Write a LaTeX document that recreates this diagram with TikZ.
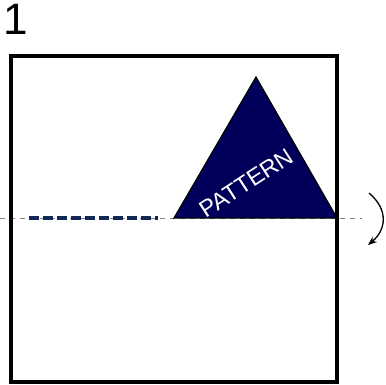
\documentclass[tikz,border=0pt]{standalone}
\usepackage{fontspec}
\setmainfont{Liberation Sans}
\usetikzlibrary{arrows.meta,positioning,calc}
\definecolor{patnavy}{RGB}{0,0,90}
\definecolor{foldblue}{RGB}{15,40,85}
\begin{document}
\begin{tikzpicture}[x=1pt,y=-1pt]
                    \useasboundingbox (0,0) rectangle (386,384);
                    % sheet and fold line
                    \draw[gray,dash pattern=on 5pt off 5pt,line width=0.9pt] (0,218) -- (362,218);
                    \draw[line width=4pt] (11,55.5) rectangle (337,382);
                    \draw[foldblue,line width=3.2pt,dash pattern=on 10pt off 4pt] (29,218) -- (158,218);
                    % pattern triangle
                    \coordinate (apex) at (256,77);
                    \coordinate (bl) at (174,218);
                    \coordinate (br) at (337,218);
                    \fill[patnavy,draw=black,line width=1.2pt] (bl) -- (apex) -- (br) -- cycle;
                    \node[white,rotate=33,font=\fontsize{23.5}{24}\selectfont,inner sep=0pt] (pat) at (246,183) {PATTERN};
                    % turn over arrow
                    \draw[-{Stealth[length=9pt,width=7pt]},line width=1.3pt] (369,193) .. controls (389,210) and (386,230) .. (368,245);
                    \node[font=\fontsize{44}{44}\selectfont,inner sep=0pt,anchor=north west] (step1) at (3,4) {1};
\end{tikzpicture}
\end{document}
